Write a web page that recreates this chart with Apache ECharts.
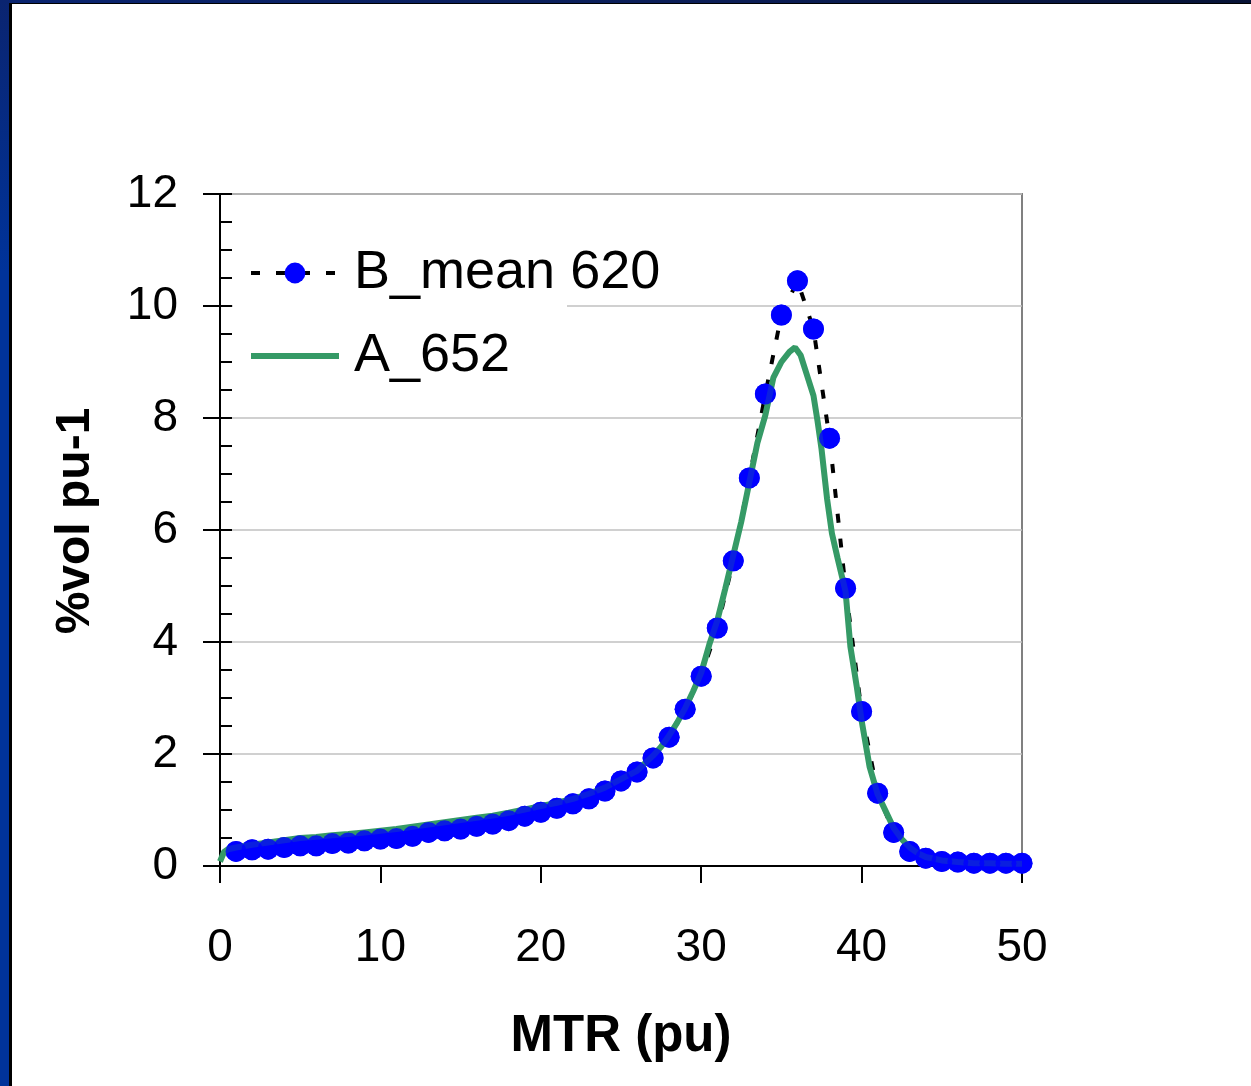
<!DOCTYPE html>
<html>
<head>
<meta charset="utf-8">
<title>MTR distribution</title>
<script src="https://cdn.jsdelivr.net/npm/echarts@6/dist/echarts.min.js"></script>
<style>
  html, body { margin: 0; padding: 0; background: #ffffff; }
  #frameLeft { position: absolute; left: 0; top: 0; width: 9px; height: 1086px;
    background: linear-gradient(to bottom, #0a2470 0%, #00339a 25%, #00339a 100%); }
  #frameLine { position: absolute; left: 9px; top: 0; width: 3px; height: 1086px; background: #000; }
  #frameTop { position: absolute; left: 0; top: 0; width: 1251px; height: 3px;
    background: linear-gradient(to right, #0a2470, #0b1d55 60%, #061235); }
  #frameTopLine { position: absolute; left: 9px; top: 3px; width: 1242px; height: 1px; background: #000; }
  #chart { position: absolute; left: 0; top: 0; width: 1251px; height: 1086px; }
</style>
</head>
<body>
<div id="frameLeft"></div>
<div id="frameLine"></div>
<div id="frameTop"></div>
<div id="frameTopLine"></div>
<div id="chart"></div>
<script>
// B_mean 620: one value per integer MTR bin
const bX = [1, 2, 3, 4, 5, 6, 7, 8, 9, 10,
            11, 12, 13, 14, 15, 16, 17, 18, 19, 20,
            21, 22, 23, 24, 25, 26, 27, 28, 29, 30,
            31, 32, 33, 34, 35, 36, 37, 38, 39, 40,
            41, 42, 43, 44, 45, 46, 47, 48, 49, 50];
const bY = [0.26, 0.29, 0.30, 0.33, 0.36, 0.36, 0.40, 0.41, 0.45, 0.48,
            0.49, 0.53, 0.60, 0.63, 0.66, 0.71, 0.75, 0.81, 0.89, 0.96,
            1.03, 1.11, 1.20, 1.34, 1.52, 1.68, 1.93, 2.30, 2.80, 3.39,
            4.25, 5.45, 6.93, 8.43, 9.84, 10.45, 9.59, 7.64, 4.96, 2.76,
            1.30, 0.60, 0.26, 0.14, 0.08, 0.07, 0.05, 0.05, 0.05, 0.05];

// A_652: finer-resolution distribution
const aX = [0, 0.25, 0.5, 1, 2, 3, 4, 5, 6, 7, 8, 9, 10,
            11, 12, 13, 14, 15, 16, 17, 18, 19, 20,
            21, 22, 23, 24, 25, 26, 27, 27.5, 28, 28.5, 29, 29.5, 30,
            30.5, 31, 31.5, 32, 32.5, 33, 33.5, 34, 34.5, 35, 35.5, 35.85,
            36.2, 36.5, 37, 37.25, 37.5, 37.85, 38.15, 38.5, 39, 39.3, 39.7, 40,
            40.5, 41, 41.5, 42, 42.5, 43, 43.5, 44, 45, 46, 47, 48, 49, 50];
const aY = [0.08, 0.25, 0.30, 0.33, 0.38, 0.42, 0.46, 0.50, 0.52, 0.55, 0.57, 0.60, 0.63,
            0.66, 0.70, 0.74, 0.78, 0.82, 0.86, 0.90, 0.95, 1.01, 1.07,
            1.13, 1.20, 1.29, 1.40, 1.55, 1.70, 1.97, 2.13, 2.33, 2.56, 2.82, 3.12, 3.45,
            3.95, 4.38, 4.95, 5.55, 6.15, 6.85, 7.55, 8.05, 8.72, 9.00, 9.18, 9.26,
            9.12, 8.85, 8.40, 7.95, 7.45, 6.55, 5.94, 5.50, 4.90, 3.92, 3.20, 2.60,
            1.77, 1.28, 0.98, 0.68, 0.48, 0.33, 0.23, 0.16, 0.10, 0.07, 0.05, 0.05, 0.04, 0.04];

const seriesNames = ['B_mean 620', 'A_652'];
const xTitle = 'MTR (pu)';
const yTitle = '%vol pu-1';

const bPairs = bX.map((x, i) => [x, bY[i]]);
const aPairs = aX.map((x, i) => [x, aY[i]]);

const FONT = "'Liberation Sans', Arial, Helvetica, sans-serif";
const GREEN = '#359a66';
const B_LINE = { color: '#000', width: 4, type: [9, 16] };
const A_LINE = { color: GREEN, width: 6 };

const chart = echarts.init(document.getElementById('chart'), null, { renderer: 'canvas' });

chart.setOption({
  animation: false,
  backgroundColor: 'transparent',
  textStyle: { fontFamily: FONT },
  grid: {
    left: 220, right: 229, top: 194, bottom: 220,
    show: true, borderColor: '#808080', borderWidth: 2, backgroundColor: 'transparent'
  },
  // white box behind the legend
  graphic: [{
    type: 'rect', z: 1, silent: true,
    shape: { x: 233, y: 215, width: 334, height: 180 },
    style: { fill: '#ffffff' }
  }],
  legend: {
    data: [
      { name: seriesNames[0], lineStyle: B_LINE },
      { name: seriesNames[1], itemStyle: { opacity: 0 }, lineStyle: A_LINE }
    ],
    orient: 'vertical',
    left: 243, top: 238,
    itemWidth: 88, itemHeight: 26, itemGap: 23,
    lineStyle: { width: 'inherit' },
    textStyle: { fontSize: 54, color: '#000', fontFamily: FONT, lineHeight: 60, padding: [0, 0, 0, 10] }
  },
  xAxis: {
    type: 'value', min: 0, max: 50, interval: 10,
    axisLine: { show: true, onZero: false, lineStyle: { color: '#000', width: 2 } },
    axisTick: { show: true, inside: false, length: 17, lineStyle: { color: '#000', width: 2 } },
    axisLabel: { fontSize: 46, color: '#000', margin: 59, fontFamily: FONT },
    splitLine: { show: false },
    name: xTitle, nameLocation: 'middle', nameGap: 145,
    nameTextStyle: { fontSize: 51, fontWeight: 'bold', color: '#000', fontFamily: FONT }
  },
  yAxis: [{
    type: 'value', min: 0, max: 12, interval: 2, position: 'left',
    axisLine: { show: true, lineStyle: { color: '#000', width: 2 } },
    axisTick: { show: true, inside: false, length: 17, lineStyle: { color: '#000', width: 2 } },
    axisLabel: { fontSize: 46, color: '#000', margin: 42, fontFamily: FONT },
    splitLine: { show: true, lineStyle: { color: '#c0c0c0', width: 1.5 } },
    name: yTitle, nameLocation: 'middle', nameGap: 120, nameRotate: 90,
    nameTextStyle: { fontSize: 48, fontWeight: 'bold', color: '#000', fontFamily: FONT, padding: [0, 0, 0, 18] }
  }, {
    // inner ticks every 0.5
    type: 'value', min: 0, max: 12, interval: 0.5, position: 'left',
    axisLine: { show: false },
    axisTick: { show: true, inside: true, length: 12, lineStyle: { color: '#000', width: 2 } },
    axisLabel: { show: false },
    splitLine: { show: false }
  }],
  series: [{
    name: seriesNames[0], type: 'line', data: bPairs, z: 2,
    symbol: 'circle', symbolSize: 21,
    itemStyle: { color: '#0000ff' },
    lineStyle: B_LINE
  }, {
    name: seriesNames[1], type: 'line', data: aPairs, z: 3,
    symbol: 'none',
    itemStyle: { color: GREEN },
    lineStyle: A_LINE
  }, {
    // markers of B drawn above A's line
    type: 'scatter', data: bPairs, z: 4, silent: true,
    symbol: 'circle', symbolSize: 21,
    itemStyle: { color: '#0000ff' }
  }]
});
</script>
</body>
</html>
